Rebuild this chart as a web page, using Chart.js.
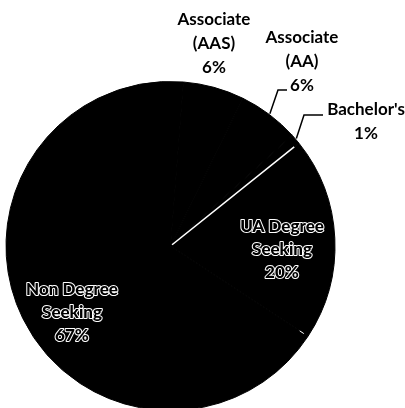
<!DOCTYPE html>
<html>
<head>
<meta charset="utf-8">
<script src="https://cdn.jsdelivr.net/npm/chart.js@4.4.1/dist/chart.umd.min.js"></script>
<style>
  html, body { margin: 0; padding: 0; background: #fff; overflow: hidden; }
  #wrap { position: absolute; left: 0; top: 0; width: 405px; height: 420px; }
</style>
</head>
<body>
<div id="wrap"><canvas id="pieChart"></canvas></div>
<script>
// data
const categories = ["Associate (AAS)", "Associate (AA)", "Bachelor's", "UA Degree Seeking", "Non Degree Seeking"];
const labelLines = [
  ["Associate", "(AAS)", "6%"],
  ["Associate", "(AA)", "6%"],
  ["Bachelor's", "1%"],
  ["UA Degree", "Seeking", "20%"],
  ["Non Degree", "Seeking", "67%"],
];
const shares = [6, 6, 1, 20, 67];

// where each label sits (text centre of first line) and whether it needs a leader
const labelSpots = [
  { x: 214, y: 20, inside: false, leader: null },
  { x: 302, y: 38, inside: false, leader: { elbow: [278, 90], end: [287, 90] } },
  { x: 366, y: 110, inside: false, leader: { elbow: [304, 115], end: [323, 115] } },
  { x: 282, y: 227, inside: true, leader: null },
  { x: 72, y: 290, inside: true, leader: null },
];

const pieLabels = {
  id: "pieLabels",
  afterDatasetsDraw(chart) {
    const ctx = chart.ctx;
    const arcs = chart.getDatasetMeta(0).data;

    // thin white slice edges that show through in the original
    ctx.save();
    ctx.strokeStyle = "#fff";
    ctx.lineWidth = 1.6;
    const a = arcs[3];
    const ang = a.startAngle;
    ctx.beginPath();
    ctx.moveTo(a.x + 2 * Math.cos(ang), a.y + 2 * Math.sin(ang));
    ctx.lineTo(a.x + (a.outerRadius - 6) * Math.cos(ang), a.y + (a.outerRadius - 6) * Math.sin(ang));
    ctx.stroke();
    const b = arcs[4].startAngle;
    ctx.lineWidth = 1;
    ctx.beginPath();
    ctx.moveTo(a.x + (a.outerRadius - 10) * Math.cos(b), a.y + (a.outerRadius - 10) * Math.sin(b));
    ctx.lineTo(a.x + (a.outerRadius - 5) * Math.cos(b), a.y + (a.outerRadius - 5) * Math.sin(b));
    ctx.stroke();
    ctx.restore();

    ctx.save();
    ctx.textAlign = "center";
    ctx.textBaseline = "middle";
    arcs.forEach((arc, i) => {
      const spot = labelSpots[i];
      if (spot.leader) {
        const mid = (arc.startAngle + arc.endAngle) / 2;
        ctx.strokeStyle = "#000";
        ctx.lineWidth = 1.5;
        ctx.beginPath();
        ctx.moveTo(arc.x + (arc.outerRadius + 1) * Math.cos(mid), arc.y + (arc.outerRadius + 1) * Math.sin(mid));
        ctx.lineTo(spot.leader.elbow[0], spot.leader.elbow[1]);
        ctx.lineTo(spot.leader.end[0], spot.leader.end[1]);
        ctx.stroke();
      }
      const lineH = spot.inside ? 23 : 24;
      ctx.font = spot.inside ? "900 17px Lato" : "bold 17px Lato";
      labelLines[i].forEach((t, k) => {
        const y = spot.y + k * lineH;
        if (spot.inside) {
          ctx.lineJoin = "round";
          ctx.strokeStyle = "#fff";
          ctx.lineWidth = 2;
          ctx.strokeText(t, spot.x, y);
        }
        ctx.fillStyle = "#000";
        ctx.fillText(t, spot.x, y);
      });
    });
    ctx.restore();
  },
};

new Chart(document.getElementById("pieChart").getContext("2d"), {
  type: "pie",
  data: {
    labels: categories,
    datasets: [
      {
        data: shares,
        backgroundColor: "#000",
        borderColor: "#000",
        borderWidth: 1,
      },
    ],
  },
  options: {
    responsive: true,
    maintainAspectRatio: false,
    animation: false,
    rotation: 4.5,
    layout: { padding: { left: 5, right: 69, top: 81, bottom: 9 } },
    plugins: {
      legend: { display: false },
      tooltip: { enabled: false },
      title: { display: false },
    },
  },
  plugins: [pieLabels],
});
</script>
</body>
</html>
